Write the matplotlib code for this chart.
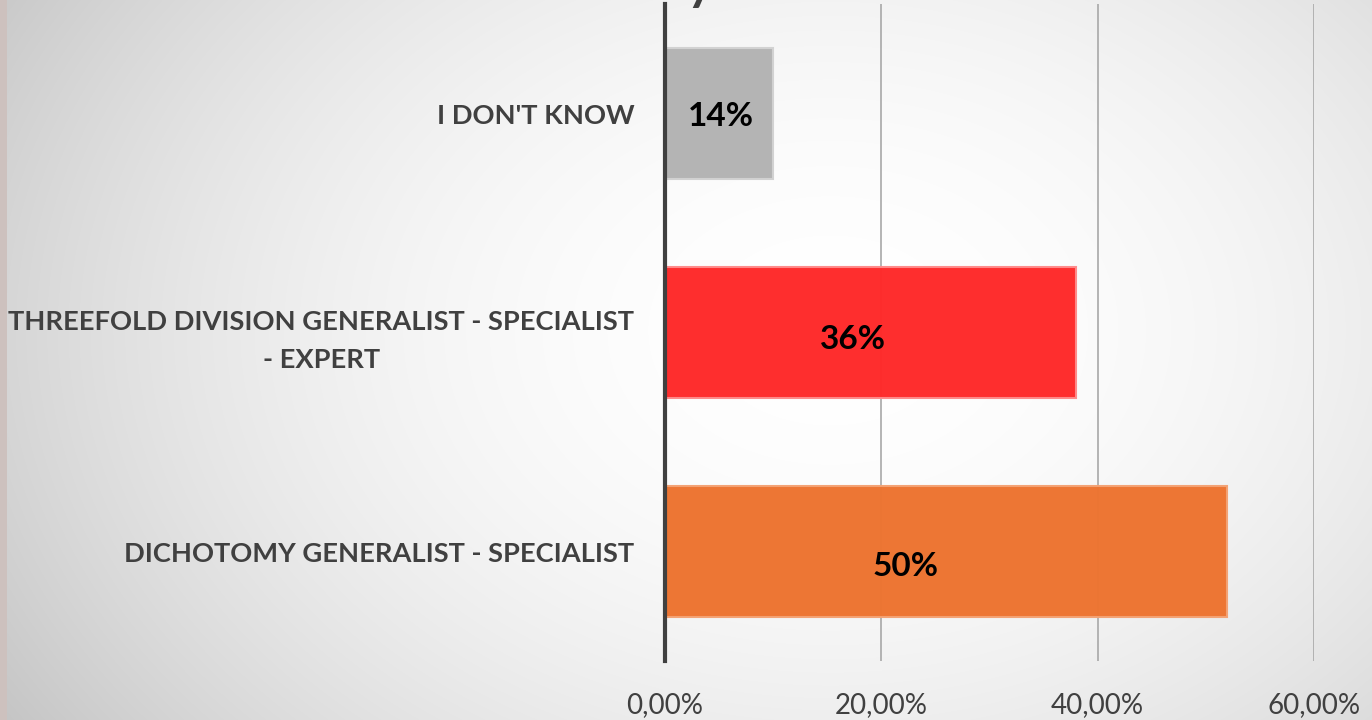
import numpy as np
import matplotlib
matplotlib.use("Agg")
import matplotlib.pyplot as plt
from matplotlib.patches import Rectangle

# values as drawn (bar lengths) and as written (labels)
categories = ["DICHOTOMY GENERALIST - SPECIALIST",
              "THREEFOLD DIVISION GENERALIST - SPECIALIST\n- EXPERT",
              "I DON'T KNOW"]
bar_values = [52.0, 38.0, 10.0]
label_texts = ["50%", "36%", "14%"]
bar_colors = ["#ed7431", "#ff2a2a", "#b3b3b3"]
edge_colors = ["#f4a274", "#ff8a8a", "#d2d2d2"]
x_ticks = [0, 20, 40, 60]

W, H = 1372, 720
fig = plt.figure(figsize=(W / 100, H / 100), dpi=100)

# radial grey background
bg = fig.add_axes([0, 0, 1, 1], zorder=-5)
yy, xx = np.mgrid[0:H, 0:W]
r = np.sqrt(((xx - 830) / 760.0) ** 2 + ((yy - 330) / 560.0) ** 2)
shade = 1.0 - 0.21 * np.clip(r / 1.24, 0, 1.1) ** 2
bg.imshow(np.dstack([shade] * 3), extent=[0, W, H, 0], aspect="auto")
bg.set_xlim(0, W)
bg.set_ylim(H, 0)
bg.axis("off")
fig.patches.append(Rectangle((0, 0), 7 / W, 1, transform=fig.transFigure,
                             facecolor="#cdc1be", edgecolor="none", zorder=-4))

# cut-off title fragment at the top
fig.text(700 / W, 1.0, "y", fontsize=36, fontweight="bold", color="#404040",
         family="Lato", ha="center", va="baseline")

ax = fig.add_axes([665 / W, 1 - 661 / H, (1314 - 665) / W, 657 / H])
ax.patch.set_alpha(0)
pos = np.arange(len(categories))
ax.barh(pos, bar_values, height=0.6, color=bar_colors, edgecolor=edge_colors,
        linewidth=1.5, alpha=0.985, zorder=2)

label_x = [22.2, 17.4, 5.2]
label_dy = [-0.07, -0.03, -0.015]
for i, t in enumerate(label_texts):
    ax.text(label_x[i], pos[i] + label_dy[i], t, ha="center", va="center",
            fontsize=24, fontweight="bold", color="black", family="Lato", zorder=3)

ax.set_xlim(0, 60)
ax.set_ylim(-0.5, 2.5)
ax.set_xticks(x_ticks)
ax.set_xticklabels([f"{v:.2f}".replace(".", ",") + "%" for v in x_ticks],
                   fontsize=20, color="#404040", family="Lato")
ax.set_yticks(pos)
ax.set_yticklabels(categories, fontsize=19.6, fontweight="bold", color="#404040",
                   family="Lato")
for lab in ax.get_yticklabels():
    lab.set_multialignment("center")
    lab.set_linespacing(1.7)
ax.tick_params(axis="x", length=0, pad=22)
ax.tick_params(axis="y", length=0, pad=22)

for v in x_ticks[1:]:
    ax.axvline(v, color="#a8a8a8", linewidth=1.2, zorder=1)
for s in ["top", "right", "bottom"]:
    ax.spines[s].set_visible(False)
ax.spines["left"].set_color("#404040")
ax.spines["left"].set_linewidth(3)
ax.spines["left"].set_zorder(4)

fig.savefig("out.png", dpi=100)
